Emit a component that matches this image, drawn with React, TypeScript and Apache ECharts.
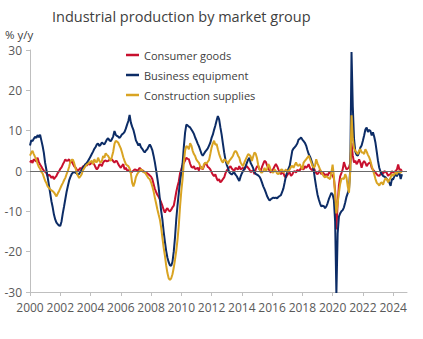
import React, { useEffect, useRef } from "react";
import * as echarts from "echarts";

const years: number[] = [];
for (let y = 2000; y <= 2024; y++) years.push(y);
const categories: string[] = [];
years.forEach((y) => {
  for (let m = 1; m <= 12; m++) categories.push(`${y}-${m < 10 ? "0" + m : m}`);
});

const seriesNames = ["Consumer goods", "Business equipment", "Construction supplies"];

// monthly % y/y, Jan 2000 .. Aug 2024
const consumerGoods = [
  2.1, 2.6, 2.0, 2.9, 2.6, 2.4, 3.3, 2.2, 1.6, 1.1, 0.5, 0.1,
  -0.2, -0.5, -1.3, -0.9, -1.2, -1.7, -1.3, -2.0, -1.6, -1.2, -0.5, -0.1,
  0.5, 0.9, 1.6, 2.2, 2.9, 2.5, 2.6, 2.9, 2.1, 2.5, 1.8, 1.2,
  0.9, 0.4, 0.0, 0.4, 0.8, 0.4, 1.2, 1.0, 1.7, 1.3, 2.0, 1.6,
  1.7, 2.4, 2.0, 1.6, 0.9, 0.4, 0.8, 1.6, 1.6, 1.2, 2.1, 2.5,
  2.6, 2.4, 2.5, 2.8, 2.7, 2.9, 2.4, 2.1, 2.5, 2.4, 1.7, 1.2,
  0.8, 1.3, 1.7, 0.4, 0.8, 0.2, 0.0, 0.4, -0.4, -0.2, 0.1, 0.4,
  0.3, 0.1, 0.3, 0.8, 0.4, 0.2, 0.0, -0.4, -0.3, -0.6, -0.8, -1.1,
  -1.4, -2.0, -3.2, -4.4, -5.2, -5.9, -6.4, -7.0, -7.8, -8.6, -9.6, -10.3,
  -9.6, -9.2, -9.8, -10.0, -9.6, -9.0, -8.6, -7.0, -5.2, -3.8, -2.6, -0.6,
  0.4, 1.5, 2.0, 2.6, 3.3, 3.0, 2.9, 1.8, 1.0, 0.8, 1.2, 0.5,
  0.6, 0.8, 0.1, 1.2, 0.8, 0.4, 1.2, 2.0, 1.7, 1.0, 0.8, 0.4,
  -0.3, -0.9, -1.3, -0.8, -1.8, -2.4, -2.0, -2.8, -2.5, -2.0, -1.6, -0.6,
  0.1, 0.5, 0.9, 1.2, 0.6, 0.3, 0.0, 0.8, 0.6, 0.4, 1.2, 0.4,
  0.6, 0.8, 0.3, 0.9, 1.2, 0.8, 0.4, -0.3, 0.0, 0.1, -0.8, 0.4,
  1.1, 1.2, 0.4, 0.1, 1.0, 1.8, 2.5, 2.3, 1.4, 0.8, 0.0, -0.4,
  0.2, 0.5, 1.2, 1.7, 1.2, 0.4, -0.3, -0.8, -0.4, -0.6, -1.3, -1.6,
  -1.0, -0.6, -0.4, -1.2, -0.9, -0.2, 0.0, -0.4, 0.3, 0.0, 0.2, 0.8,
  0.5, 0.4, 1.2, 0.8, 1.1, 1.7, 0.8, 0.4, 0.2, 0.8, 0.1, -0.5,
  -0.8, -0.4, 0.4, -0.8, -0.4, -0.6, -1.2, -0.8, -1.2, -0.5, -0.4, -0.8,
  -1.2, -1.8, -4.8, -14.5, -8.0, -3.5, -1.3, -0.5, 0.4, 2.2, 1.2, 0.4,
  0.6, 0.9, 2.0, 7.0, 3.8, 2.1, 2.6, 1.7, 2.2, 2.9, 2.1, 0.8,
  2.0, 2.5, 2.0, 1.2, 1.7, 2.0, 2.1, 0.8, 0.3, 0.0, -0.4, -0.8,
  -1.1, -1.2, -0.8, -0.4, -0.8, 0.0, -0.2, -0.5, -1.2, -0.9, -0.8, 0.0,
  -0.4, -0.2, 0.0, 0.4, 1.6, 0.3, 0.4, 0.0,
];

const businessEquipment = [
  6.3, 7.6, 7.4, 8.0, 8.5, 8.2, 8.9, 8.4, 9.0, 7.6, 6.2, 4.5,
  2.0, 0.3, -1.5, -3.5, -5.5, -7.5, -9.0, -10.8, -12.0, -12.8, -13.2, -13.5,
  -13.6, -12.5, -10.5, -8.8, -7.0, -5.2, -3.8, -2.4, -1.5, -0.8, -0.4, -0.2,
  -0.4, -0.6, -0.9, -0.7, -0.2, 0.3, 0.8, 1.3, 1.7, 2.0, 2.5, 3.0,
  3.6, 4.2, 4.8, 5.5, 5.9, 6.6, 6.8, 6.2, 6.5, 7.1, 6.8, 6.6,
  7.2, 7.8, 8.1, 7.6, 7.4, 7.9, 8.6, 9.9, 9.0, 8.7, 8.5, 8.2,
  8.6, 9.1, 9.3, 9.7, 10.5, 11.5, 12.4, 13.9, 12.0, 11.0, 10.2, 9.0,
  7.6, 7.0, 6.3, 6.8, 5.9, 5.5, 5.0, 4.6, 5.1, 5.4, 6.0, 6.6,
  6.0, 5.2, 3.8, 2.2, 0.3, -1.8, -4.0, -7.0, -9.8, -12.0, -15.0, -17.5,
  -19.8, -21.5, -22.6, -23.4, -23.5, -22.5, -20.0, -16.5, -12.0, -8.5, -5.5, -2.6,
  -0.5, 1.8, 6.0, 9.5, 11.5, 11.3, 11.0, 10.8, 10.3, 9.8, 9.2, 8.3,
  7.6, 6.8, 6.1, 5.2, 4.3, 3.8, 4.3, 4.8, 5.2, 5.6, 6.3, 7.0,
  8.2, 9.0, 10.2, 11.3, 12.5, 13.6, 12.8, 10.8, 9.0, 6.8, 4.6, 2.8,
  1.6, 0.8, -0.3, -0.6, -0.9, -0.5, -0.4, -0.9, -1.3, -1.9, -2.5, -1.4,
  -0.6, 0.0, 0.5, 1.2, 2.0, 2.8, 3.3, 2.0, 1.4, 0.7, -0.3, -0.7,
  -0.9, -1.1, -1.4, -2.0, -2.9, -3.8, -4.5, -5.3, -6.2, -6.8, -7.3, -7.0,
  -6.8, -6.6, -6.7, -6.6, -6.8, -6.4, -6.2, -6.0, -5.2, -4.3, -2.8, -1.2,
  -0.3, 0.6, 1.3, 3.2, 5.0, 5.6, 5.9, 6.3, 6.8, 7.8, 8.0, 8.3,
  7.8, 7.4, 7.0, 6.3, 5.2, 4.2, 3.6, 2.8, 1.8, 0.2, -2.0, -4.0,
  -5.8, -7.0, -8.0, -8.8, -8.6, -8.7, -9.2, -8.8, -8.0, -7.0, -6.2, -5.4,
  -5.8, -7.2, -12.5, -30.5, -15.5, -11.3, -10.5, -10.0, -9.7, -9.0, -7.8, -6.4,
  -5.5, -4.5, 0.5, 29.5, 16.0, 8.0, 4.8, 4.0, 3.8, 4.6, 5.8, 6.3,
  7.5, 8.8, 10.3, 10.8, 9.7, 10.2, 9.9, 8.8, 9.6, 8.5, 7.0, 4.8,
  2.5, 0.8, -0.2, -0.8, -1.2, -1.4, -1.6, -2.0, -2.4, -2.9, -3.7, -2.0,
  -2.1, -1.3, -0.8, -1.3, -0.6, -0.5, -2.0, -0.8,
];

const constructionSupplies = [
  3.8, 4.5, 5.0, 4.2, 3.5, 2.9, 1.8, 1.0, 0.6, -0.2, -0.6, -1.5,
  -2.4, -3.0, -3.8, -4.2, -4.5, -4.8, -5.0, -5.3, -5.8, -6.3, -5.6, -5.0,
  -4.3, -3.6, -3.0, -2.3, -1.7, -0.8, 0.0, 1.0, 2.3, 2.8, 2.8, 2.0,
  0.8, -0.4, -1.2, -1.7, -1.3, -0.8, 0.2, 0.7, 1.2, 1.6, 1.8, 2.1,
  2.3, 2.5, 1.7, 2.9, 2.3, 2.2, 3.3, 2.5, 2.1, 2.5, 3.7, 3.3,
  4.4, 4.0, 3.7, 3.1, 2.5, 3.6, 4.8, 6.7, 7.5, 7.3, 7.0, 6.3,
  5.6, 4.6, 3.4, 2.5, 1.7, 1.4, 1.2, 0.6, -0.6, -2.9, -3.8, -2.9,
  -1.5, -0.8, -0.3, 0.0, 0.4, 0.2, -0.4, -0.1, -0.8, -1.3, -1.8, -2.0,
  -2.8, -3.8, -5.0, -6.6, -8.0, -9.5, -10.8, -12.0, -14.0, -16.5, -19.0, -21.0,
  -23.4, -25.3, -26.6, -27.0, -26.6, -25.6, -24.0, -22.0, -19.8, -17.0, -13.5, -8.8,
  -5.0, -2.0, 2.1, 5.0, 6.2, 6.0, 5.4, 6.9, 6.3, 5.0, 4.2, 3.7,
  2.8, 2.4, 2.0, 1.2, 0.6, 0.6, 1.7, 2.1, 1.8, 2.3, 2.7, 4.2,
  5.8, 6.8, 7.5, 6.5, 6.7, 5.4, 4.2, 3.3, 2.5, 2.1, 2.9, 2.6,
  2.4, 1.7, 2.5, 2.9, 3.3, 3.8, 4.6, 5.0, 4.6, 3.8, 3.3, 2.1,
  1.6, 1.2, 2.1, 2.8, 3.5, 4.2, 4.0, 3.6, 2.5, 3.6, 4.6, 4.3,
  3.2, 1.5, 0.4, -0.3, -0.4, 0.0, 0.8, 0.0, 0.4, 1.7, 1.2, 0.1,
  -0.3, -0.4, 0.4, 0.0, -0.6, -0.8, -0.4, 0.3, 0.4, -0.4, 0.0, 0.4,
  -0.2, 0.0, 0.4, 1.0, 1.3, 0.8, 1.5, 2.1, 1.4, 1.3, 1.7, 1.0,
  0.4, 2.1, 2.5, 2.9, 3.3, 3.8, 3.0, 2.2, 1.3, 0.8, 1.2, 2.9,
  1.9, 1.2, 0.4, -0.2, -0.8, -1.3, -1.6, -1.2, -1.6, -1.8, -2.0, -0.4,
  1.6, -1.2, -6.0, -10.5, -8.0, -5.4, -3.2, -2.0, -1.8, -2.0, -0.8, -1.6,
  -3.8, -5.4, 0.0, 13.8, 8.0, 5.6, 5.0, 4.6, 4.2, 5.0, 5.4, 4.6,
  4.6, 4.2, 5.4, 4.8, 4.0, 3.4, 2.5, 1.3, 0.2, -0.8, -2.0, -2.9,
  -3.2, -3.6, -3.0, -2.8, -3.4, -2.4, -1.8, -2.0, -2.8, -2.2, -1.6, -0.8,
  -1.2, -0.8, -0.4, -0.8, 0.0, -0.3, -0.4, 0.0,
];

const colors = ["#c8102e", "#0c2c66", "#d9a423"];
const font = "'Open Sans', 'Noto Sans', sans-serif";

export default function App() {
  const ref = useRef<HTMLDivElement>(null);
  useEffect(() => {
    if (!ref.current) return;
    const chart = echarts.init(ref.current, undefined, { renderer: "svg" });
    const everyTwoYears = (i: number) => i % 24 === 0;
    chart.setOption({
      animation: false,
      textStyle: { fontFamily: font },
      title: {
        text: "Industrial production by market group",
        left: 52,
        top: 6,
        padding: 0,
        textStyle: { fontFamily: font, fontSize: 14.5, fontWeight: "normal", color: "#404040", lineHeight: 20 },
      },
      graphic: [
        {
          type: "text",
          left: 5,
          top: 28,
          style: { text: "% y/y", fontFamily: font, fontSize: 11.5, fill: "#404040" },
        },
      ],
      legend: {
        data: seriesNames,
        orient: "vertical",
        left: 126,
        top: 48,
        padding: 0,
        icon: "rect",
        itemWidth: 13,
        itemHeight: 2.5,
        itemGap: 6,
        textStyle: { fontFamily: font, fontSize: 11, color: "#404040", lineHeight: 14 },
      },
      grid: { left: 30, right: 16, top: 50, bottom: 47, containLabel: false },
      xAxis: {
        type: "category",
        data: categories,
        boundaryGap: false,
        axisLine: { onZero: false, lineStyle: { color: "#bfbfbf", width: 1 } },
        axisTick: { show: true, interval: everyTwoYears, length: 4, lineStyle: { color: "#bfbfbf" } },
        axisLabel: {
          interval: everyTwoYears,
          formatter: (v: string) => v.slice(0, 4),
          color: "#595959",
          fontFamily: font,
          fontSize: 12,
          margin: 9,
        },
        splitLine: { show: false },
      },
      yAxis: {
        type: "value",
        min: -30,
        max: 30,
        interval: 10,
        axisLine: { show: true, lineStyle: { color: "#bfbfbf", width: 1 } },
        axisTick: { show: true, length: 4, lineStyle: { color: "#bfbfbf" } },
        axisLabel: { color: "#595959", fontFamily: font, fontSize: 12, margin: 8 },
        splitLine: { show: false },
      },
      series: [
        {
          name: seriesNames[0],
          type: "line",
          data: consumerGoods,
          showSymbol: false,
          lineStyle: { width: 2, color: colors[0] },
          itemStyle: { color: colors[0] },
          markLine: {
            silent: true,
            symbol: ["none", "none"],
            label: { show: false },
            lineStyle: { color: "#6b6b6b", width: 1, type: "solid" },
            data: [{ yAxis: 0 }],
          },
        },
        {
          name: seriesNames[1],
          type: "line",
          data: businessEquipment,
          showSymbol: false,
          lineStyle: { width: 2, color: colors[1] },
          itemStyle: { color: colors[1] },
        },
        {
          name: seriesNames[2],
          type: "line",
          data: constructionSupplies,
          showSymbol: false,
          lineStyle: { width: 2, color: colors[2] },
          itemStyle: { color: colors[2] },
        },
      ],
    });
    return () => chart.dispose();
  }, []);
  return (
    <div
      ref={ref}
      style={{ position: "fixed", left: 0, top: 0, width: 423, height: 339, background: "#ffffff" }}
    />
  );
}
